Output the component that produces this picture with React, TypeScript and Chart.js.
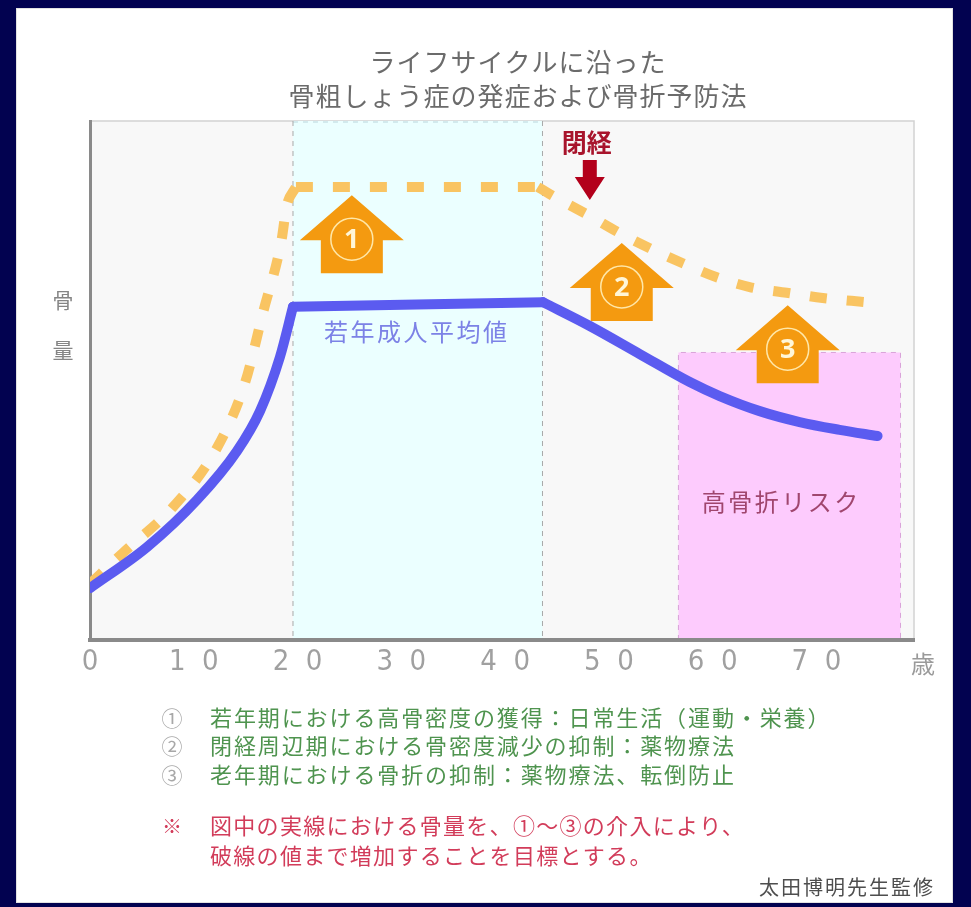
import React, { useEffect, useRef } from 'react';
import { Chart, registerables } from 'chart.js';

Chart.register(...registerables);

const CJK = '"Noto Sans CJK JP", "Noto Sans", sans-serif';
const DIGITS = '"Liberation Sans Narrow", "DejaVu Sans Condensed", "Liberation Sans", sans-serif';

// Age axis ticks (years)
const ageTicks = [0, 10, 20, 30, 40, 50, 60, 70];

// Solid line: typical bone mass over the life cycle (age, relative bone mass)
const solidRiseAge = [0, 5.49, 10.31, 14.16, 16.38, 18.3, 19.56];
const solidRiseMass = [10.0, 17.9, 27.0, 36.4, 44.1, 54.5, 64.2];
const solidPlateauAge = [19.56, 43.64];
const solidPlateauMass = [64.2, 65.1];
const solidDeclineAge = [43.64, 48.16, 52.97, 57.79, 60.68, 64.53, 68.38, 72.23, 75.89];
const solidDeclineMass = [65.1, 60.5, 55.1, 49.7, 47.0, 44.1, 42.0, 40.5, 39.3];

// Dashed line: target bone mass with intervention
const targetRiseAge = [0, 3.18, 7.99, 12.23, 14.93, 16.66, 18.46, 18.94, 19.84];
const targetRiseMass = [10.8, 16.8, 25.6, 37.0, 49.5, 63.0, 77.1, 83.5, 87.3];
const targetPlateauAge = [19.84, 43.15];
const targetPlateauMass = [87.3, 87.3];
const targetDeclineAge = [43.15, 44.3, 48.16, 51.04, 53.93, 57.11, 60.39, 63.57, 67.13, 70.6, 74.74];
const targetDeclineMass = [87.3, 85.9, 81.7, 78.4, 75.5, 72.6, 69.9, 68.0, 66.9, 65.9, 65.1];

// Shaded periods
const youthBandAge = [19.56, 43.6];
const riskBandAge = [56.7, 78.1];
const riskBandMass = [55.4];

// Interventions ①–③: arrow position (age) and arrow tip (bone mass)
const interventionLabels = ['1', '2', '3'];
const interventionAge = [25.23, 51.24, 67.23];
const interventionTip = [85.7, 76.5, 64.5];

// Menopause marker
const menopauseAge = [48.16];
const menopauseTip = [84.8];

const titleLines = ['ライフサイクルに沿った', '骨粗しょう症の発症および骨折予防法'];
const noteMarks = ['①', '②', '③'];
const noteTexts = [
  '若年期における高骨密度の獲得：日常生活（運動・栄養）',
  '閉経周辺期における骨密度減少の抑制：薬物療法',
  '老年期における骨折の抑制：薬物療法、転倒防止',
];
const remarkLines = ['図中の実線における骨量を、①〜③の介入により、', '破線の値まで増加することを目標とする。'];
const creditText = '太田博明先生監修';

const pts = (xs: number[], ys: number[]) => xs.map((v, i) => ({ x: v, y: ys[i] }));

function drawText(
  ctx: CanvasRenderingContext2D,
  str: string,
  x: number,
  y: number,
  font: string,
  color: string,
  align: CanvasTextAlign = 'center',
  spacing = 0
) {
  ctx.save();
  ctx.font = font;
  ctx.fillStyle = color;
  ctx.textAlign = align;
  ctx.textBaseline = 'middle';
  (ctx as any).letterSpacing = `${spacing}px`;
  ctx.fillText(str, x, y);
  ctx.restore();
}

function upArrow(ctx: CanvasRenderingContext2D, cx: number, tipY: number) {
  const headH = 45;
  const headW = 52;
  const shaftW = 31;
  const shaftH = 33;
  ctx.beginPath();
  ctx.moveTo(cx, tipY);
  ctx.lineTo(cx + headW, tipY + headH);
  ctx.lineTo(cx + shaftW, tipY + headH);
  ctx.lineTo(cx + shaftW, tipY + headH + shaftH);
  ctx.lineTo(cx - shaftW, tipY + headH + shaftH);
  ctx.lineTo(cx - shaftW, tipY + headH);
  ctx.lineTo(cx - headW, tipY + headH);
  ctx.closePath();
  ctx.fill();
}

const decor = {
  id: 'lifecycleDecor',
  beforeDraw(chart: any) {
    const { ctx, chartArea: a, scales } = chart;
    const x = scales.x;
    const y = scales.y;
    ctx.save();
    // plot background and frame
    ctx.fillStyle = '#f8f8f8';
    ctx.fillRect(a.left, a.top, a.right - a.left, a.bottom - a.top);
    ctx.strokeStyle = '#d2d2d2';
    ctx.lineWidth = 1.5;
    ctx.beginPath();
    ctx.moveTo(a.left, a.top);
    ctx.lineTo(a.right, a.top);
    ctx.lineTo(a.right, a.bottom);
    ctx.stroke();

    // young adult period
    const x0 = x.getPixelForValue(youthBandAge[0]);
    const x1 = x.getPixelForValue(youthBandAge[1]);
    ctx.fillStyle = '#ebffff';
    ctx.fillRect(x0, a.top, x1 - x0, a.bottom - a.top);
    ctx.setLineDash([5, 5]);
    ctx.lineWidth = 1;
    ctx.strokeStyle = '#b9d6dc';
    ctx.beginPath();
    ctx.moveTo(x0, a.top + 1);
    ctx.lineTo(x1, a.top + 1);
    ctx.stroke();
    ctx.strokeStyle = '#a8a8a8';
    ctx.beginPath();
    ctx.moveTo(x0, a.top);
    ctx.lineTo(x0, a.bottom);
    ctx.moveTo(x1, a.top);
    ctx.lineTo(x1, a.bottom);
    ctx.stroke();

    // high fracture risk period
    const r0 = x.getPixelForValue(riskBandAge[0]);
    const r1 = x.getPixelForValue(riskBandAge[1]);
    const rt = y.getPixelForValue(riskBandMass[0]);
    ctx.fillStyle = '#fdcbfd';
    ctx.fillRect(r0, rt, r1 - r0, a.bottom - rt);
    ctx.strokeStyle = '#d9a3d9';
    ctx.beginPath();
    ctx.moveTo(r0, a.bottom);
    ctx.lineTo(r0, rt);
    ctx.lineTo(r1, rt);
    ctx.lineTo(r1, a.bottom);
    ctx.stroke();
    ctx.restore();
  },
  beforeDatasetsDraw(chart: any) {
    const { ctx, scales } = chart;
    const x = scales.x;
    const y = scales.y;
    ctx.save();
    interventionLabels.forEach((label, i) => {
      const cx = x.getPixelForValue(interventionAge[i]);
      const tip = y.getPixelForValue(interventionTip[i]);
      ctx.fillStyle = '#f49a10';
      upArrow(ctx, cx, tip);
      ctx.beginPath();
      ctx.arc(cx, tip + 44, 21, 0, Math.PI * 2);
      ctx.strokeStyle = '#ffe7a8';
      ctx.lineWidth = 1.5;
      ctx.stroke();
      drawText(ctx, label, cx, tip + 45, `bold 27px "Noto Sans", sans-serif`, '#fff6d8');
    });

    // menopause arrow
    const mx = x.getPixelForValue(menopauseAge[0]);
    const mt = y.getPixelForValue(menopauseTip[0]);
    ctx.fillStyle = '#b3001b';
    ctx.beginPath();
    ctx.moveTo(mx - 7, mt - 40);
    ctx.lineTo(mx + 7, mt - 40);
    ctx.lineTo(mx + 7, mt - 23);
    ctx.lineTo(mx + 15, mt - 23);
    ctx.lineTo(mx, mt);
    ctx.lineTo(mx - 15, mt - 23);
    ctx.lineTo(mx - 7, mt - 23);
    ctx.closePath();
    ctx.fill();
    drawText(ctx, '閉経', mx - 3, mt - 57, `bold 25px ${CJK}`, '#a8142c');
    ctx.restore();
  },
  afterDraw(chart: any) {
    const { ctx, scales } = chart;
    const x = scales.x;
    const y = scales.y;

    drawText(ctx, '若年成人平均値', x.getPixelForValue(31.49), y.getPixelForValue(59.3), `24px ${CJK}`, '#7c82e6', 'center', 2.5);
    drawText(ctx, '高骨折リスク', x.getPixelForValue(66.6), y.getPixelForValue(26.6), `24px ${CJK}`, '#a0466e', 'center', 2.5);

    // title
    drawText(ctx, titleLines[0], 518, 62, `26px ${CJK}`, '#6b6b6b', 'center', 1);
    drawText(ctx, titleLines[1], 518, 96, `26px ${CJK}`, '#6b6b6b', 'center', 1);

    // axis captions
    drawText(ctx, '骨', 63, 300, `21px ${CJK}`, '#858585');
    drawText(ctx, '量', 63, 350, `21px ${CJK}`, '#858585');
    drawText(ctx, '歳', 923, 664, `24px ${CJK}`, '#9a9a9a');

    // notes
    const noteY = [718, 746, 775];
    noteTexts.forEach((t, i) => {
      drawText(ctx, noteMarks[i], 172, noteY[i], `21px ${CJK}`, '#a8a8a8');
      drawText(ctx, t, 210, noteY[i], `22px ${CJK}`, '#4f944f', 'left', 1.9);
    });
    drawText(ctx, '※', 172, 826, `20px ${CJK}`, '#d23c5a');
    drawText(ctx, remarkLines[0], 210, 826, `22px ${CJK}`, '#d23c5a', 'left', 1.3);
    drawText(ctx, remarkLines[1], 210, 856, `22px ${CJK}`, '#d23c5a', 'left', 1.3);
    drawText(ctx, creditText, 935, 887, `20px ${CJK}`, '#4e4e4e', 'right', 2);
  },
};

export default function App() {
  const ref = useRef<HTMLCanvasElement>(null);

  useEffect(() => {
    const canvas = ref.current;
    if (!canvas) return;
    const line = (data: { x: number; y: number }[], color: string, dashed: boolean) => ({
      data,
      borderColor: color,
      backgroundColor: color,
      borderWidth: 10,
      borderDash: dashed ? [17, 20] : [],
      borderCapStyle: dashed ? 'butt' : 'round',
      borderJoinStyle: 'round',
      cubicInterpolationMode: 'monotone',
      pointRadius: 0,
      fill: false,
      clip: 0,
    });
    const solid = '#5b5bf0';
    const target = '#f9c462';
    const chart = new Chart(canvas, {
      type: 'line',
      data: {
        datasets: [
          line(pts(solidRiseAge, solidRiseMass), solid, false),
          line(pts(solidPlateauAge, solidPlateauMass), solid, false),
          line(pts(solidDeclineAge, solidDeclineMass), solid, false),
          line(pts(targetRiseAge, targetRiseMass), target, true),
          line(pts(targetPlateauAge, targetPlateauMass), target, true),
          line(pts(targetDeclineAge, targetDeclineMass), target, true),
        ] as any,
      },
      options: {
        responsive: false,
        maintainAspectRatio: false,
        devicePixelRatio: 1,
        animation: false,
        events: [],
        layout: { padding: { left: 90, top: 121, right: 57, bottom: 217 } },
        plugins: {
          legend: { display: false },
          tooltip: { enabled: false },
          title: { display: false },
        },
        scales: {
          x: {
            type: 'linear',
            min: 0,
            max: 79.4,
            afterBuildTicks: (s: any) => {
              s.ticks = ageTicks.map((value) => ({ value }));
            },
            afterFit: (s: any) => {
              s.height = 50;
              s.paddingLeft = 0;
              s.paddingRight = 0;
            },
            ticks: {
              autoSkip: false,
              maxRotation: 0,
              padding: 5,
              color: '#a0a0a0',
              font: { family: DIGITS, size: 29 },
              callback: (v: any) => String(v).split('').join('  '),
            },
            grid: { display: false, drawTicks: false },
            border: { display: true, color: '#8a8a8a', width: 4 },
          },
          y: {
            type: 'linear',
            min: 0,
            max: 100,
            afterFit: (s: any) => {
              s.width = 0;
              s.paddingTop = 0;
              s.paddingBottom = 0;
            },
            ticks: { display: false },
            grid: { display: false, drawTicks: false },
            border: { display: true, color: '#8a8a8a', width: 3 },
          },
        },
      } as any,
      plugins: [decor],
    });
    return () => chart.destroy();
  }, []);

  return (
    <div
      style={{
        position: 'fixed',
        left: 0,
        top: 0,
        width: 971,
        height: 907,
        background: '#020250',
        overflow: 'hidden',
      }}
    >
      <div
        style={{
          position: 'absolute',
          left: 16,
          top: 8,
          width: 937,
          height: 895,
          background: '#ffffff',
          boxShadow: 'inset 0 0 0 1px #e2e2e2',
        }}
      />
      <canvas
        ref={ref}
        width={971}
        height={907}
        style={{ position: 'absolute', left: 0, top: 0, width: 971, height: 907 }}
      />
    </div>
  );
}
